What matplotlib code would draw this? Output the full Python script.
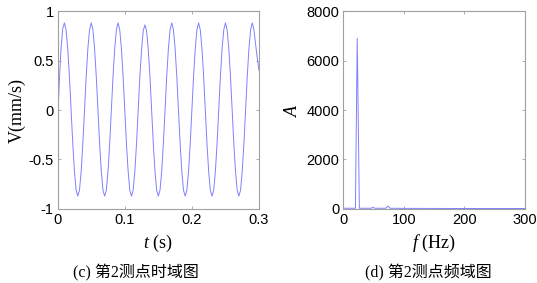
import numpy as np
import matplotlib
matplotlib.use('Agg')
import matplotlib.pyplot as plt

plt.rcParams['mathtext.fontset'] = 'custom'
plt.rcParams['mathtext.rm'] = 'Liberation Serif'
plt.rcParams['mathtext.it'] = 'Liberation Serif:italic'

# datos: velocidad del punto 2 (cada 0.0025 s)
t_step = 0.0025
v_mm_s = [
    -0.13, 0.30, 0.62, 0.82, 0.88, 0.81, 0.62, 0.34, 0.00, -0.34, -0.62, -0.81, -0.87, -0.81, -0.62, -0.34,
    0.00, 0.34, 0.62, 0.81, 0.88, 0.81, 0.62, 0.34, 0.00, -0.34, -0.62, -0.81, -0.87, -0.81, -0.62, -0.34,
    0.00, 0.34, 0.62, 0.81, 0.88, 0.81, 0.62, 0.34, 0.00, -0.34, -0.62, -0.81, -0.87, -0.81, -0.62, -0.34,
    0.00, 0.34, 0.61, 0.80, 0.86, 0.80, 0.61, 0.34, 0.00, -0.34, -0.62, -0.81, -0.87, -0.81, -0.62, -0.34,
    0.00, 0.34, 0.62, 0.81, 0.88, 0.81, 0.62, 0.34, 0.00, -0.34, -0.62, -0.81, -0.87, -0.81, -0.62, -0.34,
    0.00, 0.34, 0.62, 0.81, 0.88, 0.81, 0.62, 0.34, 0.00, -0.34, -0.62, -0.81, -0.87, -0.81, -0.62, -0.34,
    0.00, 0.34, 0.62, 0.81, 0.88, 0.81, 0.62, 0.34, 0.00, -0.34, -0.62, -0.81, -0.87, -0.81, -0.62, -0.34,
    0.00, 0.34, 0.62, 0.81, 0.88, 0.81, 0.66, 0.52, 0.40,
]
t_s = np.arange(len(v_mm_s)) * t_step

# espectro (amplitud vs frecuencia)
f_hz = [0, 20, 23, 26.5, 30, 46, 49, 52, 70, 73.5, 77, 100, 200, 300]
amp = [30, 30, 6900, 30, 30, 30, 70, 30, 30, 120, 30, 25, 20, 20]

t_ticks = [0, 0.1, 0.2, 0.3]
v_ticks = [-1, -0.5, 0, 0.5, 1]
f_ticks = [0, 100, 200, 300]
a_ticks = [0, 2000, 4000, 6000, 8000]

line_color = '#8080ff'
frame_color = '#a0a0a0'

fig = plt.figure(figsize=(5.37, 2.83), dpi=100)
ax1 = fig.add_axes([0.1074, 0.2615, 0.3749, 0.6996])
ax2 = fig.add_axes([0.6393, 0.2615, 0.3384, 0.6996])

def estilo(ax):
    for s in ax.spines.values():
        s.set_color(frame_color)
        s.set_linewidth(0.8)
    ax.tick_params(direction='in', length=2.5, width=0.6, color=frame_color,
                   top=True, right=True, labelsize=10.5, pad=3)
    for lab in ax.get_xticklabels() + ax.get_yticklabels():
        lab.set_fontfamily('Liberation Sans')

ax1.plot(t_s, v_mm_s, color=line_color, lw=0.7)
ax1.set_xlim(0, 0.3)
ax1.set_ylim(-1, 1)
ax1.set_xticks(t_ticks)
ax1.set_xticklabels(['0', '0.1', '0.2', '0.3'])
ax1.set_yticks(v_ticks)
ax1.set_yticklabels(['-1', '-0.5', '0', '0.5', '1'])
estilo(ax1)
ax1.set_ylabel('V(mm/s)', family='Liberation Serif', fontsize=13, labelpad=2)
ax1.set_xlabel('$t$ (s)', family='Liberation Serif', fontsize=13, labelpad=4)

ax2.plot(f_hz, amp, color=line_color, lw=0.7)
ax2.set_xlim(0, 300)
ax2.set_ylim(0, 8000)
ax2.set_xticks(f_ticks)
ax2.set_yticks(a_ticks)
estilo(ax2)
ax2.set_ylabel('$A$', fontsize=13, labelpad=4)
ax2.set_xlabel('$f$ (Hz)', family='Liberation Serif', fontsize=13, labelpad=4)

cap_font = ['Liberation Serif', 'Noto Sans CJK SC']
fig.text(0.253, 0.02, '(c) 第2测点时域图', family=cap_font, fontsize=11.5, ha='center')
fig.text(0.797, 0.02, '(d) 第2测点频域图', family=cap_font, fontsize=11.5, ha='center')

fig.savefig('out.png', dpi=100)
